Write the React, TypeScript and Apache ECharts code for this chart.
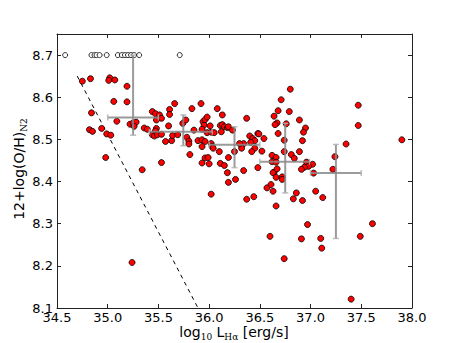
import React, { useEffect, useRef } from "react";
import * as echarts from "echarts";

// open circles (upper limit values at 8.7)
const openX = [34.58, 34.84, 34.87, 34.89, 34.92, 34.99, 35.1, 35.14, 35.17, 35.2, 35.23, 35.26, 35.31, 35.71];
const openY = 8.7;

// red points [log L_Halpha, 12+log(O/H)]
const redPoints: [number, number][] = [
  [34.75, 8.638], [34.83, 8.644], [34.84, 8.563], [34.82, 8.523], [34.85, 8.519], [34.94, 8.526],
  [34.99, 8.513], [35.03, 8.51], [34.98, 8.457], [35.02, 8.646], [35.01, 8.64], [35.07, 8.641],
  [35.19, 8.626], [35.06, 8.59], [35.19, 8.589], [35.09, 8.543], [35.22, 8.536], [35.25, 8.539],
  [35.28, 8.541], [35.26, 8.531], [35.36, 8.527], [35.39, 8.524], [35.34, 8.428], [35.24, 8.208],
  [35.44, 8.566], [35.47, 8.561], [35.51, 8.558], [35.53, 8.55], [35.48, 8.546], [35.61, 8.571],
  [35.61, 8.559], [35.66, 8.585], [35.48, 8.526], [35.47, 8.52], [35.44, 8.511], [35.46, 8.508],
  [35.49, 8.511], [35.53, 8.512], [35.53, 8.445], [35.57, 8.495], [35.6, 8.532], [35.63, 8.497],
  [35.64, 8.509], [35.69, 8.511], [35.74, 8.538], [35.77, 8.546], [35.83, 8.573], [35.81, 8.464],
  [35.78, 8.505], [35.8, 8.496], [35.8, 8.489], [35.85, 8.522], [35.92, 8.585], [35.89, 8.497],
  [35.93, 8.499], [35.96, 8.495], [35.93, 8.483], [35.94, 8.542], [35.95, 8.534], [35.93, 8.524],
  [35.96, 8.547], [35.98, 8.553], [36.01, 8.532], [35.98, 8.516], [36.02, 8.517], [36.05, 8.516],
  [36.08, 8.573], [36.13, 8.558], [36.37, 8.55], [36.11, 8.533], [36.13, 8.535], [36.15, 8.53],
  [36.18, 8.528], [36.12, 8.518], [36.19, 8.53], [36.23, 8.522], [36.02, 8.49], [36.03, 8.483],
  [36.04, 8.479], [36.1, 8.471], [35.96, 8.456], [35.99, 8.457], [35.93, 8.444], [36.0, 8.442],
  [36.11, 8.443], [36.15, 8.438], [36.19, 8.457], [36.18, 8.421], [36.25, 8.471], [36.34, 8.49],
  [36.32, 8.479], [36.3, 8.49], [36.34, 8.426], [36.26, 8.405], [36.19, 8.398], [36.4, 8.508],
  [36.43, 8.502], [36.45, 8.497], [36.41, 8.493], [36.45, 8.479], [36.48, 8.514], [36.48, 8.433],
  [36.02, 8.37], [36.37, 8.358], [36.44, 8.364], [36.57, 8.385], [36.8, 8.619], [36.71, 8.594],
  [36.68, 8.568], [36.79, 8.566], [36.64, 8.555], [36.67, 8.539], [36.65, 8.535], [36.76, 8.537],
  [36.89, 8.546], [36.95, 8.527], [36.93, 8.517], [36.68, 8.514], [36.92, 8.497], [36.74, 8.498],
  [36.49, 8.513], [36.54, 8.502], [36.52, 8.472], [36.42, 8.471], [36.62, 8.462], [36.66, 8.457],
  [36.62, 8.447], [36.66, 8.446], [36.74, 8.471], [36.81, 8.464], [36.84, 8.455], [36.89, 8.471],
  [36.96, 8.446], [37.02, 8.441], [36.98, 8.436], [36.94, 8.434], [36.91, 8.429], [37.03, 8.42],
  [36.64, 8.422], [36.63, 8.421], [36.67, 8.43], [36.66, 8.41], [36.72, 8.411], [36.72, 8.405],
  [36.61, 8.393], [36.63, 8.377], [36.66, 8.342], [36.86, 8.373], [36.83, 8.359], [36.92, 8.355],
  [37.05, 8.377], [37.12, 8.362], [36.97, 8.298], [36.6, 8.27], [36.91, 8.264], [37.1, 8.265],
  [37.11, 8.242], [36.74, 8.217], [37.49, 8.27], [37.61, 8.3], [37.4, 8.121], [37.24, 8.459],
  [37.22, 8.429], [37.35, 8.489], [37.47, 8.581], [37.47, 8.533], [37.9, 8.499],
];

// dashed limit line
const dashedLine: [number, number][] = [[34.7, 8.65], [35.89, 8.1]];

// binned means with error bars
const binX = [35.25, 35.745, 36.25, 36.75, 37.25];
const binY = [8.552, 8.518, 8.487, 8.447, 8.42];
const binXLo = [35.0, 35.41, 36.0, 36.5, 37.0];
const binXHi = [35.5, 36.03, 36.5, 36.99, 37.5];
const binYLo = [8.51, 8.485, 8.433, 8.373, 8.265];
const binYHi = [8.7, 8.558, 8.53, 8.538, 8.488];

const X_MIN = 34.5, X_MAX = 38.0, X_INT = 0.5;
const Y_MIN = 8.1, Y_MAX = 8.75, Y_INT = 0.1;

export default function App() {
  const ref = useRef<HTMLDivElement>(null);
  useEffect(() => {
    document.body.style.margin = "0";
    if (!ref.current) return;
    const chart = echarts.init(ref.current, null, { renderer: "svg" });
    const font = "DejaVu Sans";
    const frame = { show: true, onZero: false, lineStyle: { color: "#222", width: 1 } };
    const tick = { show: true, inside: true, length: 4, lineStyle: { color: "#222", width: 1 } };
    const errData = binX.map((x, i) => [x, binY[i], binXLo[i], binXHi[i], binYLo[i], binYHi[i]]);
    const richStyles = {
      a: { fontFamily: font, fontSize: 14, lineHeight: 15, padding: [0, 0, 3, 0], verticalAlign: "bottom", fill: "#000" },
      s: { fontFamily: "DejaVu Serif", fontSize: 9, lineHeight: 10, verticalAlign: "bottom", fill: "#000" },
    };
    const option: any = {
      animation: false,
      backgroundColor: "#fff",
      grid: { left: 57, right: 46, top: 34, bottom: 35, containLabel: false },
      xAxis: [
        {
          type: "value", min: X_MIN, max: X_MAX, interval: X_INT, position: "bottom",
          axisLine: frame, axisTick: tick, splitLine: { show: false },
          axisLabel: { color: "#000", fontFamily: font, fontSize: 13, margin: 3, formatter: (v: number) => v.toFixed(1) },
        },
        {
          type: "value", min: X_MIN, max: X_MAX, interval: X_INT, position: "top",
          axisLine: frame, axisTick: tick, splitLine: { show: false }, axisLabel: { show: false },
        },
      ],
      yAxis: [
        {
          type: "value", min: Y_MIN, max: Y_MAX, interval: Y_INT, position: "left",
          axisLine: frame, axisTick: tick, splitLine: { show: false },
          axisLabel: { color: "#000", fontFamily: font, fontSize: 13, margin: 4, showMaxLabel: false, formatter: (v: number) => v.toFixed(1) },
        },
        {
          type: "value", min: Y_MIN, max: Y_MAX, interval: Y_INT, position: "right",
          axisLine: frame, axisTick: tick, splitLine: { show: false }, axisLabel: { show: false },
        },
      ],
      series: [
        {
          type: "line", data: dashedLine, symbol: "none", silent: true, z: 1,
          lineStyle: { color: "#000", width: 1, type: [4, 4] },
        },
        {
          type: "scatter", data: redPoints, symbol: "circle", symbolSize: 6, z: 2,
          itemStyle: { color: "#ff0000", borderColor: "#000", borderWidth: 0.8, opacity: 1 },
        },
        {
          type: "scatter", data: openX.map((x) => [x, openY]), symbol: "circle", symbolSize: 5, z: 2,
          itemStyle: { color: "#fff", borderColor: "#000", borderWidth: 0.8, opacity: 1 },
        },
        {
          type: "custom", data: errData, z: 3, silent: true,
          encode: { x: 0, y: 1 },
          renderItem: (params: any, api: any) => {
            const xl = api.coord([api.value(2), api.value(1)]);
            const xh = api.coord([api.value(3), api.value(1)]);
            const yl = api.coord([api.value(0), api.value(4)]);
            const yh = api.coord([api.value(0), api.value(5)]);
            const style = { stroke: "#8a8a8a", lineWidth: 2, opacity: 0.85 };
            const capStyle = { stroke: "#b0b0b0", lineWidth: 1.5, opacity: 0.85 };
            const cap = 3;
            return {
              type: "group",
              children: [
                { type: "line", shape: { x1: xl[0], y1: xl[1], x2: xh[0], y2: xh[1] }, style },
                { type: "line", shape: { x1: yl[0], y1: yl[1], x2: yh[0], y2: yh[1] }, style },
                { type: "line", shape: { x1: yl[0] - cap, y1: yl[1], x2: yl[0] + cap, y2: yl[1] }, style: capStyle },
                { type: "line", shape: { x1: yh[0] - cap, y1: yh[1], x2: yh[0] + cap, y2: yh[1] }, style: capStyle },
                { type: "line", shape: { x1: xl[0], y1: xl[1] - cap, x2: xl[0], y2: xl[1] + cap }, style: capStyle },
                { type: "line", shape: { x1: xh[0], y1: xh[1] - cap, x2: xh[0], y2: xh[1] + cap }, style: capStyle },
              ],
            };
          },
        },
      ],
      graphic: [
        {
          type: "text", x: 234, y: 334, silent: true,
          style: {
            text: "{a|log}{s|10}{a| L}{s|Hα}{a| [erg/s]}",
            align: "center", verticalAlign: "middle",
            rich: richStyles,
          },
        },
        {
          type: "text", x: 21, y: 169, rotation: Math.PI / 2, silent: true,
          style: {
            text: "{a|12+log(O/H)}{s|N2}",
            align: "center", verticalAlign: "middle",
            rich: richStyles,
          },
        },
      ],
    };
    chart.setOption(option);
    return () => chart.dispose();
  }, []);
  return <div ref={ref} style={{ width: 458, height: 343 }} />;
}
